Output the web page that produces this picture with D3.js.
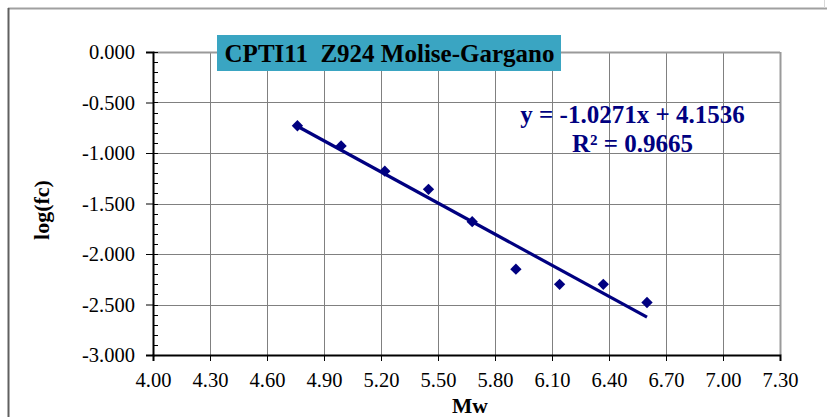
<!DOCTYPE html>
<html>
<head>
<meta charset="utf-8">
<script src="https://cdn.jsdelivr.net/npm/d3@7"></script>
<style>
  html, body { margin: 0; padding: 0; background: #fff; }
  svg { display: block; }
  text { font-family: "Liberation Serif", "Times New Roman", serif; }
</style>
</head>
<body>
<svg id="chart" width="827" height="417"></svg>
<script>
// Magnitude (Mw) and log of corner frequency for each event
const mw = [4.76, 4.99, 5.22, 5.45, 5.68, 5.91, 6.14, 6.37, 6.60];
const logFc = [-0.73, -0.93, -1.18, -1.36, -1.68, -2.15, -2.30, -2.30, -2.48];

// Linear trend line coefficients
const slope = -1.0271;
const intercept = 4.1536;
const r2 = 0.9665;

const xTicks = [4.00, 4.30, 4.60, 4.90, 5.20, 5.50, 5.80, 6.10, 6.40, 6.70, 7.00, 7.30];
const yTicks = [0, -0.5, -1.0, -1.5, -2.0, -2.5, -3.0];
const yMinorTicks = d3.range(0, 31).map(i => -i / 10);

const title = "CPTI11\u00a0\u00a0Z924 Molise-Gargano";

const svg = d3.select("#chart");
const plotL = 153, plotR = 780, plotT = 52, plotB = 355;

const x = d3.scaleLinear().domain([4.0, 7.3]).range([plotL, plotR]);
const y = d3.scaleLinear().domain([-3.0, 0]).range([plotB, plotT]);

// outer frame
svg.append("line").attr("x1", 8).attr("x2", 827).attr("y1", 8.5).attr("y2", 8.5)
  .attr("stroke", "#a0a0a0").attr("stroke-width", 2);
svg.append("line").attr("x1", 8.5).attr("x2", 8.5).attr("y1", 8).attr("y2", 417)
  .attr("stroke", "#606060").attr("stroke-width", 2);
svg.append("line").attr("x1", 824.5).attr("x2", 824.5).attr("y1", 0).attr("y2", 8)
  .attr("stroke", "#d8d8d8").attr("stroke-width", 1);

// grid
const grid = svg.append("g");
grid.selectAll("line.v").data(xTicks.slice(1)).join("line")
  .attr("x1", d => Math.round(x(d)) + 0.5).attr("x2", d => Math.round(x(d)) + 0.5)
  .attr("y1", plotT).attr("y2", plotB)
  .attr("stroke", (d, i) => i === xTicks.length - 2 ? "#9a9a9a" : "#808080")
  .attr("stroke-width", (d, i) => i === xTicks.length - 2 ? 2 : 1);
grid.selectAll("line.h").data(yTicks.slice(0, -1)).join("line")
  .attr("x1", plotL).attr("x2", plotR)
  .attr("y1", d => Math.round(y(d)) + 0.5).attr("y2", d => Math.round(y(d)) + 0.5)
  .attr("stroke", d => d === 0 ? "#9a9a9a" : "#808080")
  .attr("stroke-width", d => d === 0 ? 2 : 1);

// y axis with inward minor ticks
const yAxis = svg.append("g").attr("transform", `translate(${plotL},0)`)
  .call(d3.axisLeft(y).tickValues(yTicks).tickFormat(d => d3.format(".3f")(d).replace("\u2212", "-")).tickSize(7).tickPadding(11));
yAxis.select(".domain").attr("stroke", "#000").attr("stroke-width", 2);
yAxis.selectAll(".tick line").attr("stroke", "#000");
yAxis.selectAll(".tick text").attr("font-size", 20.5).attr("fill", "#000")
  .attr("font-family", "'Liberation Serif', serif");
svg.append("g").selectAll("line").data(yMinorTicks).join("line")
  .attr("x1", plotL).attr("x2", plotL + 5)
  .attr("y1", d => Math.round(y(d)) + 0.5).attr("y2", d => Math.round(y(d)) + 0.5)
  .attr("stroke", "#000");

// x axis
const xAxis = svg.append("g").attr("transform", `translate(0,${plotB})`)
  .call(d3.axisBottom(x).tickValues(xTicks).tickFormat(d3.format(".2f")).tickSize(6).tickPadding(11));
xAxis.select(".domain").attr("stroke", "#000").attr("stroke-width", 2);
xAxis.selectAll(".tick line").attr("stroke", "#000");
xAxis.selectAll(".tick text").attr("font-size", 20.5).attr("fill", "#000")
  .attr("font-family", "'Liberation Serif', serif");

// trend line over the data range
const xMin = d3.min(mw), xMax = d3.max(mw);
svg.append("line")
  .attr("x1", x(xMin)).attr("y1", y(slope * xMin + intercept))
  .attr("x2", x(xMax)).attr("y2", y(slope * xMax + intercept))
  .attr("stroke", "#000080").attr("stroke-width", 3.2);

// diamond markers
svg.append("g").selectAll("path").data(mw.map((d, i) => [d, logFc[i]])).join("path")
  .attr("d", d3.symbol().type(d3.symbolSquare).size(64))
  .attr("transform", d => `translate(${x(d[0])},${y(d[1])}) rotate(45)`)
  .attr("fill", "#000080");

// title box
const tb = svg.append("g");
tb.append("rect").attr("x", 217).attr("y", 35).attr("width", 344).attr("height", 36)
  .attr("fill", "#3aa5c2");
tb.append("text").attr("x", 389.5).attr("y", 62).attr("text-anchor", "middle")
  .attr("font-size", 25).attr("font-weight", "bold").attr("fill", "#000")
  .text(title);

// regression equation
svg.append("text").attr("x", 632.5).attr("y", 123).attr("text-anchor", "middle")
  .attr("font-size", 25).attr("font-weight", "bold").attr("fill", "#000080")
  .text(`y = ${slope.toFixed(4)}x + ${intercept.toFixed(4)}`);
svg.append("text").attr("x", 632.5).attr("y", 152).attr("text-anchor", "middle")
  .attr("font-size", 25).attr("font-weight", "bold").attr("fill", "#000080")
  .text(`R² = ${r2.toFixed(4)}`);

// axis titles
svg.append("text").attr("x", 470).attr("y", 413).attr("text-anchor", "middle")
  .attr("font-size", 21.5).attr("font-weight", "bold").attr("fill", "#000").text("Mw");
svg.append("text").attr("transform", `translate(49,210) rotate(-90)`).attr("text-anchor", "middle")
  .attr("font-size", 22).attr("font-weight", "bold").attr("fill", "#000").text("log(fc)");
</script>
</body>
</html>
